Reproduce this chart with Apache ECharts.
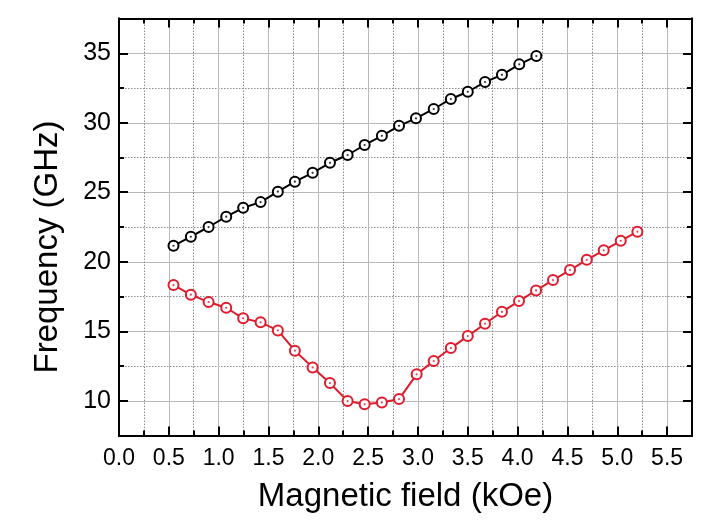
<!DOCTYPE html>
<html>
<head>
<meta charset="utf-8">
<script src="https://cdn.jsdelivr.net/npm/echarts@6/dist/echarts.min.js"></script>
<style>
html,body{margin:0;padding:0;background:#fff;}
#c{width:707px;height:528px;}
</style>
</head>
<body>
<div id="c"></div>
<script>
// Data
const blackField = [0.547, 0.721, 0.899, 1.076, 1.246, 1.421, 1.594, 1.765, 1.943, 2.117, 2.294, 2.465, 2.638, 2.810, 2.980, 3.158, 3.330, 3.500, 3.673, 3.843, 4.017, 4.188];
const blackFreq  = [21.15, 21.80, 22.50, 23.24, 23.88, 24.29, 25.04, 25.76, 26.40, 27.12, 27.68, 28.40, 29.06, 29.78, 30.32, 30.99, 31.71, 32.23, 32.93, 33.45, 34.20, 34.80];
const redField = [0.547, 0.721, 0.899, 1.076, 1.246, 1.421, 1.594, 1.765, 1.943, 2.117, 2.294, 2.465, 2.638, 2.810, 2.987, 3.158, 3.330, 3.500, 3.673, 3.843, 4.014, 4.185, 4.355, 4.526, 4.694, 4.864, 5.035, 5.202];
const redFreq  = [18.32, 17.63, 17.10, 16.69, 15.93, 15.64, 15.06, 13.60, 12.40, 11.27, 9.98, 9.74, 9.88, 10.12, 11.90, 12.86, 13.79, 14.65, 15.54, 16.40, 17.17, 17.94, 18.68, 19.40, 20.14, 20.82, 21.51, 22.16];

const xMajorTicks = [0.0, 0.5, 1.0, 1.5, 2.0, 2.5, 3.0, 3.5, 4.0, 4.5, 5.0, 5.5];
const xMinorTicks = [0.25, 0.75, 1.25, 1.75, 2.25, 2.75, 3.25, 3.75, 4.25, 4.75, 5.25];
const yMajorTicks = [10, 15, 20, 25, 30, 35];
const yMinorTicks = [12.5, 17.5, 22.5, 27.5, 32.5];

const xTitle = 'Magnetic field (kOe)';
const yTitle = 'Frequency (GHz)';

const FONT = '"Liberation Sans", Arial, sans-serif';
const BLACK = '#000000';
const RED = '#e01b2c';

function zip(a, b) { return a.map((v, i) => [v, b[i]]); }

const xMin = 0, xMax = 5.75, yMin = 7.5, yMax = 37.5;

function makeX(pos, ticks, len, labels, split) {
  return {
    type: 'value', position: pos, min: xMin, max: xMax,
    axisLine: {show: true, onZero: false, lineStyle: {color: '#000', width: 2}},
    axisTick: {show: true, inside: true, length: len, customValues: ticks, lineStyle: {color: '#000', width: 2}},
    axisLabel: labels ? {show: true, customValues: ticks, fontFamily: FONT, fontSize: 23, color: '#000', margin: 12,
      formatter: v => v.toFixed(1)} : {show: false},
    splitLine: split || {show: false},
    name: labels ? xTitle : '', nameLocation: 'middle', nameGap: 45,
    nameTextStyle: {fontFamily: FONT, fontSize: 33, color: '#000'}
  };
}
function makeY(pos, ticks, len, labels, split) {
  return {
    type: 'value', position: pos, min: yMin, max: yMax,
    axisLine: {show: true, onZero: false, lineStyle: {color: '#000', width: 2}},
    axisTick: {show: true, inside: true, length: len, customValues: ticks, lineStyle: {color: '#000', width: 2}},
    axisLabel: labels ? {show: true, customValues: ticks, fontFamily: FONT, fontSize: 25, color: '#000', margin: 8} : {show: false},
    splitLine: split || {show: false},
    name: labels ? yTitle : '', nameLocation: 'middle', nameGap: 55,
    nameTextStyle: {fontFamily: FONT, fontSize: 33, color: '#000', padding: [0, 40, 0, 0]}
  };
}
const solidSplit = {show: true, lineStyle: {color: '#b9b9b9', width: 1, type: 'solid'}};
const dotSplit = {show: true, lineStyle: {color: '#8a8a8a', width: 1, type: [1.5, 1.5]}};

const chart = echarts.init(document.getElementById('c'), null, {renderer: 'canvas'});

function lineSeries(x, y, color) {
  return {
    type: 'line', xAxisIndex: 0, yAxisIndex: 0, data: zip(x, y),
    symbol: 'emptyCircle', symbolSize: 10, showAllSymbol: true,
    lineStyle: {color: color, width: 2},
    itemStyle: {color: color, borderWidth: 1.2},
    z: 5, animation: false
  };
}
function dotSeries(x, y, color) {
  return {
    type: 'scatter', xAxisIndex: 0, yAxisIndex: 0, data: zip(x, y),
    symbol: 'circle', symbolSize: 2.2, itemStyle: {color: color},
    z: 6, animation: false, silent: true
  };
}

chart.setOption({
  backgroundColor: '#fff',
  animation: false,
  grid: {left: 119, top: 18.5, width: 573, height: 417, containLabel: false},
  xAxis: [
    makeX('bottom', xMajorTicks, 9, true, solidSplit),
    makeX('bottom', xMinorTicks, 5, false, dotSplit),
    makeX('top', xMajorTicks, 9, false, null),
    makeX('top', xMinorTicks, 5, false, null)
  ],
  yAxis: [
    makeY('left', yMajorTicks, 9, true, solidSplit),
    makeY('left', yMinorTicks, 5, false, dotSplit),
    makeY('right', yMajorTicks, 9, false, null),
    makeY('right', yMinorTicks, 5, false, null)
  ],
  series: [
    lineSeries(blackField, blackFreq, BLACK),
    dotSeries(blackField, blackFreq, BLACK),
    lineSeries(redField, redFreq, RED),
    dotSeries(redField, redFreq, RED)
  ]
});
</script>
</body>
</html>
